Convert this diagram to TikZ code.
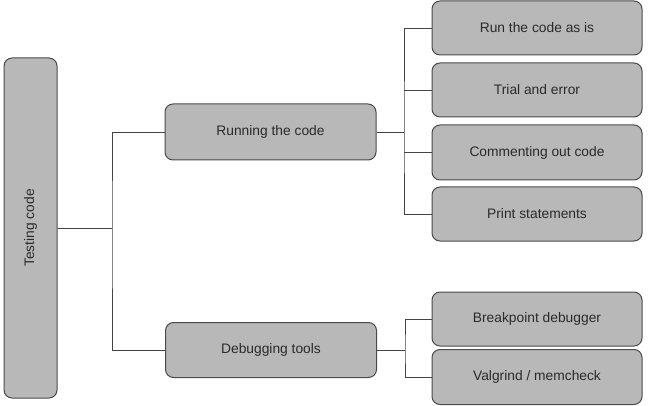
\documentclass[tikz,border=0pt]{standalone}
\usepackage{fontspec}
\setmainfont{Liberation Sans}
\begin{document}
\begin{tikzpicture}[x=1pt,y=-1pt,
  box/.style={draw=boxline, fill=boxfill, rounded corners=8pt, line width=1pt,
    text=txt, font=\fontsize{13.8}{16}\selectfont, inner sep=0pt},
  conn/.style={draw=lineclr, line width=0.9pt}]
\definecolor{boxfill}{HTML}{B8B8B8}
\definecolor{boxline}{HTML}{4A4A4A}
\definecolor{lineclr}{HTML}{444444}
\definecolor{txt}{HTML}{2A2A2A}
\useasboundingbox (0,0) rectangle (650,406);
\node[box, minimum width=53pt, minimum height=340pt] (root) at (30.5,228) {};
\node[rotate=90, text=txt, font=\fontsize{13.8}{16}\selectfont] (roottxt) at (root.center) {Testing code};
\node[box, minimum width=211pt, minimum height=56pt] (run) at (270.5,132) {Running the code};
\node[box, minimum width=211pt, minimum height=55pt] (dbg) at (271,350) {Debugging tools};
\node[box, minimum width=210pt, minimum height=54pt] (r1) at (537,28) {Run the code as is};
\node[box, minimum width=210pt, minimum height=54pt] (r2) at (537,90) {Trial and error};
\node[box, minimum width=210pt, minimum height=55pt] (r3) at (537,152.5) {Commenting out code};
\node[box, minimum width=210pt, minimum height=54pt] (r4) at (537,214) {Print statements};
\node[box, minimum width=210pt, minimum height=54pt] (b1) at (537,319) {Breakpoint debugger};
\node[box, minimum width=210pt, minimum height=55pt] (b2) at (537,377) {Valgrind / memcheck};
\coordinate (j1) at (112,228);
\coordinate (j2) at (404,132);
\coordinate (j3) at (405,350);
\draw[conn] (root.east |- j1) -- (j1);
\draw[conn] (run.west) -| (j1) |- (dbg.west);
\draw[conn] (run.east) -- (j2);
\draw[conn] (r1.west) -| (j2) |- (r4.west);
\draw[conn] (r2.west) -- (r2.west -| j2);
\draw[conn] (r3.west) -- (r3.west -| j2);
\draw[conn] (dbg.east) -- (j3);
\draw[conn] (b1.west) -| (j3) |- (b2.west);
\end{tikzpicture}
\end{document}
